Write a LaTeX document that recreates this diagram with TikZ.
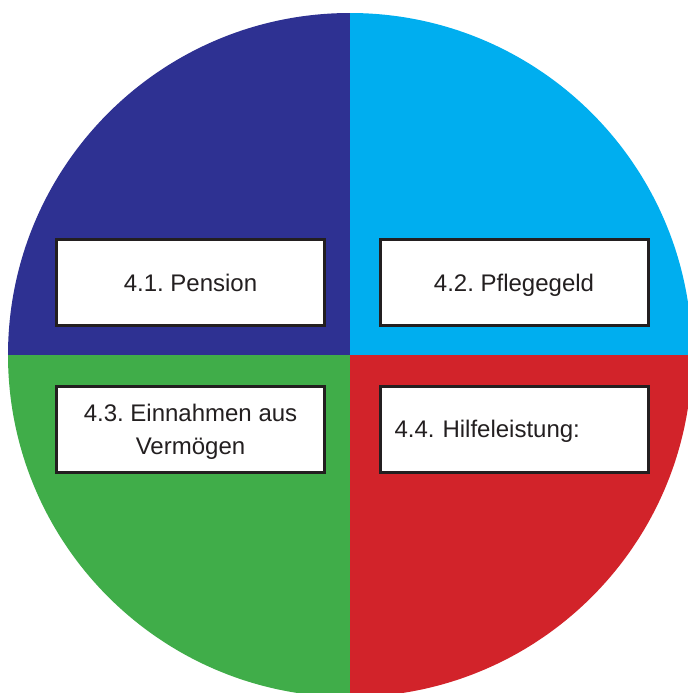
\documentclass[tikz,border=0pt]{standalone}
\usepackage{fontspec}
\setmainfont{Liberation Sans}
\usepackage{tikz}
\usetikzlibrary{positioning}
\definecolor{pensionblue}{HTML}{2E3192}
\definecolor{pflegeblue}{HTML}{00AEEF}
\definecolor{vermoegengreen}{HTML}{40AD49}
\definecolor{hilfered}{HTML}{D2232A}
\definecolor{boxgray}{HTML}{231F20}
\frenchspacing

\begin{document}
\begin{tikzpicture}[x=0.75pt, y=-0.75pt, font=\fontsize{18}{24.75}\selectfont]
\tikzset{box/.style = {draw=boxgray, line width=2.25pt, fill=white, rectangle,
  minimum height=64.5pt, minimum width=201pt, text=boxgray, align=center,
  text depth=0pt}}

  \useasboundingbox (0,0) rectangle (688,693);
  \clip (0,0) rectangle (688,693);

  % quadrants of the circle
  \begin{scope}
    \clip (350,355) circle[radius=342];
    \fill[pensionblue] (0,0) rectangle (350,355);
    \fill[pflegeblue] (350,0) rectangle (700,355);
    \fill[vermoegengreen] (0,355) rectangle (350,710);
    \fill[hilfered] (350,355) rectangle (700,710);
  \end{scope}

  \node[box] (pension) at (190.5,282.5) {4.1. Pension};
  \node[box] (pflegegeld) at (514,282.5) {4.2. Pflegegeld};
  \node[box] (vermoegen) at (190.5,429) {4.3. Einnahmen aus\\Verm\"ogen};
  \node[box, align=left, text width=180pt] (hilfe) at (514.5,429)
    {4.4. Hilfeleistung:};

\end{tikzpicture}
\end{document}
